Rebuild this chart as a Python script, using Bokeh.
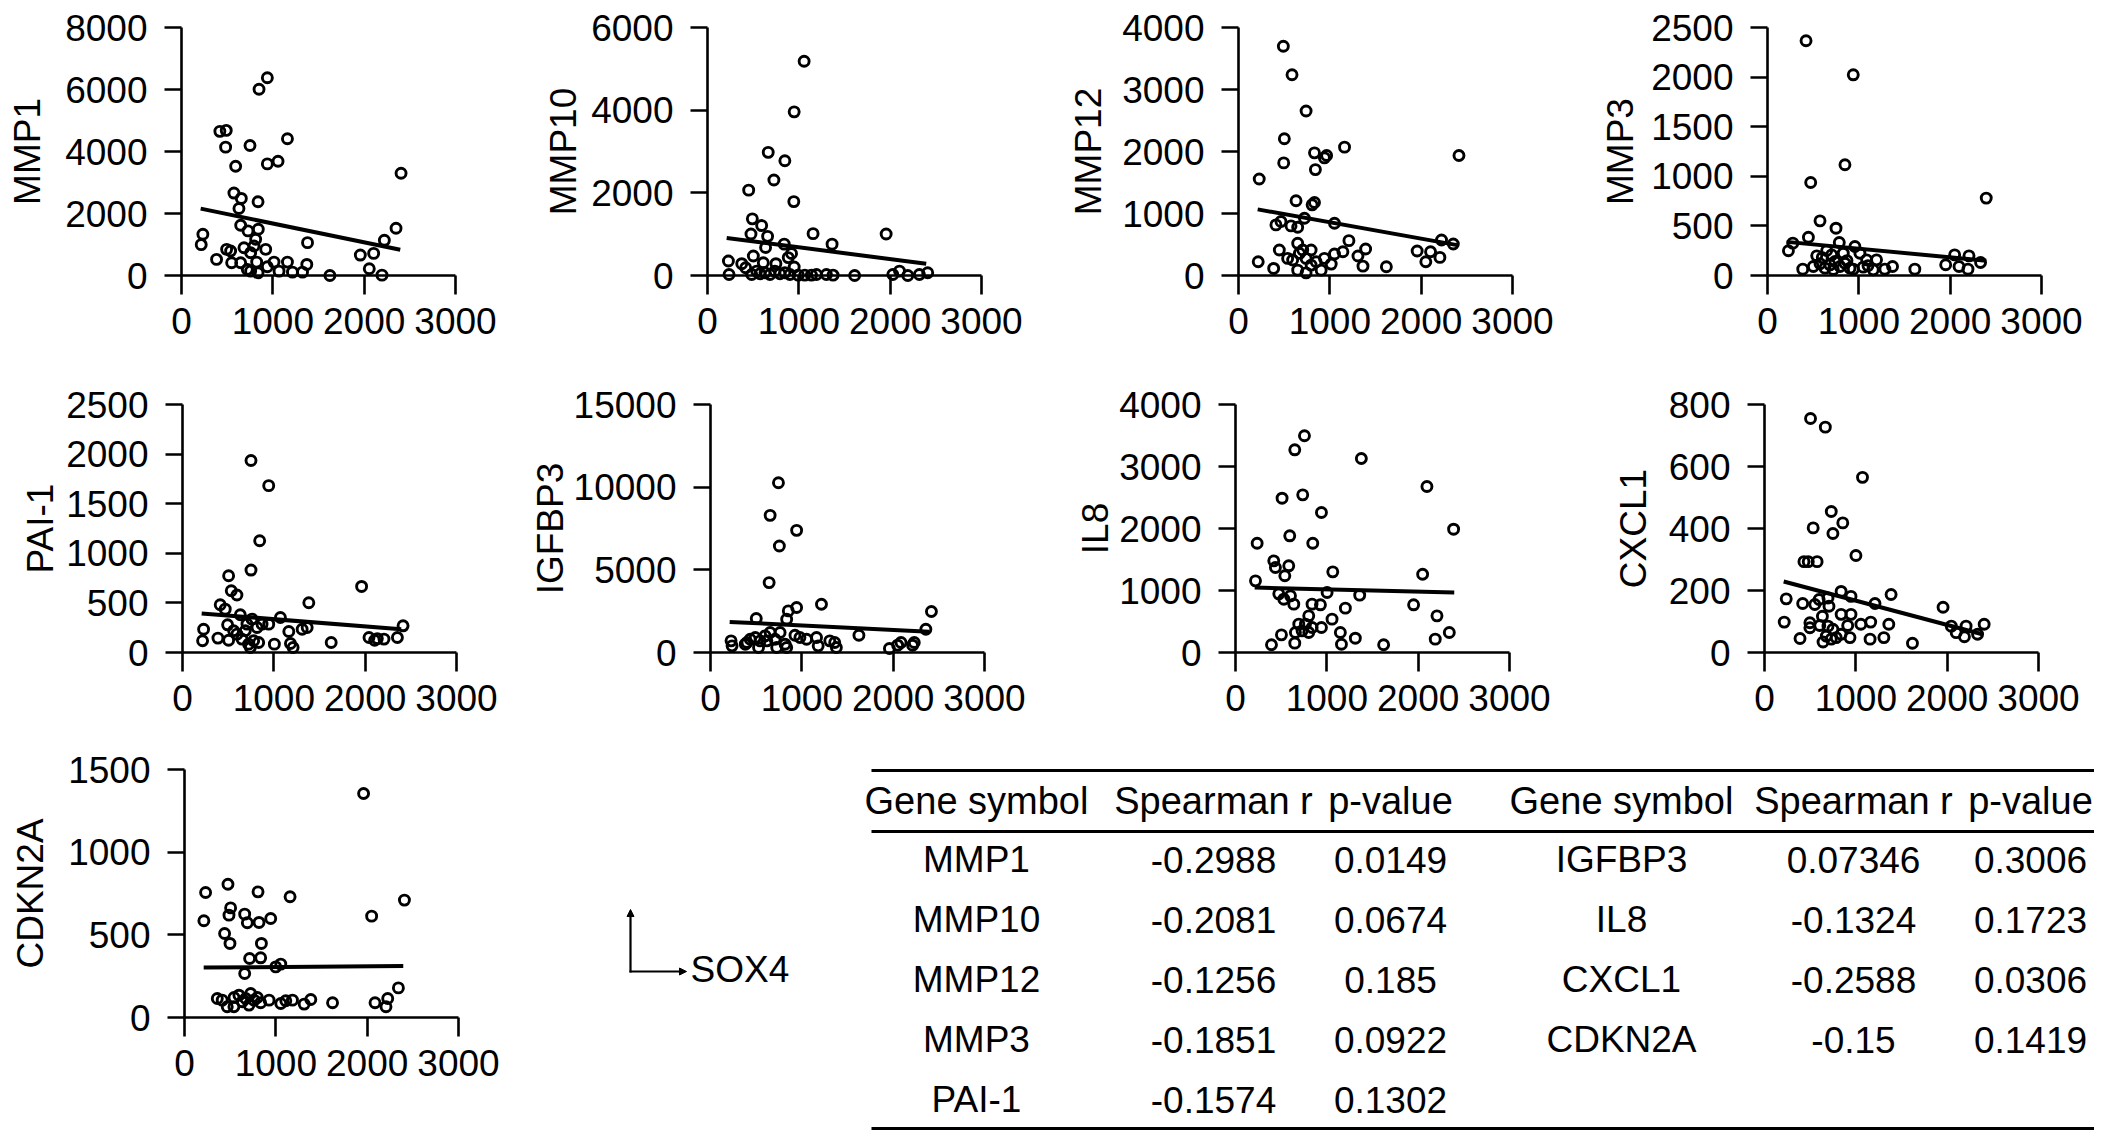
from bokeh.plotting import figure
from bokeh.layouts import row, column
from bokeh.models import Range1d, FixedTicker, Arrow, NormalHead
from bokeh.core.properties import value
from bokeh.embed import file_html
from bokeh.resources import INLINE

FONT = "Liberation Sans"

# SOX4 axis
sox4_ticks = [0, 1000, 2000, 3000]
fit_x = [210, 2395]

# MMP1 vs SOX4
mmp1_x = [940, 849, 420, 490, 483, 750, 1160, 593, 940, 1057, 2404, 574, 655, 838, 629, 648, 728, 841, 812, 234,
          216, 1380, 2349, 2221, 2104, 1958, 2056, 2195, 1625, 384, 494, 538, 549, 648, 684, 757, 794, 922, 823, 721,
          838, 940, 1013, 1068, 1160, 1215, 1325, 1372, 757]
mmp1_y = [6378, 6010, 4650, 4680, 4140, 4195, 4411, 3524, 3600, 3686, 3297, 2659, 2486, 2378, 2162, 1622, 1438, 1492, 1168, 1330,
          995, 1059, 1524, 1135, 714, 659, 216, 11, 0, 519, 843, 789, 411, 411, 897, 735, 951, 843, 432, 195,
          86, 281, 432, 140, 432, 108, 108, 357, 140]
mmp1_fit = [2157, 828]

# MMP10
mmp10_x = [1058, 949, 665, 847, 727, 451, 945, 491, 593, 476, 658, 1156, 1956, 1364, 840, 636, 920, 502, 229, 375,
           418, 236, 749, 949, 484, 538, 575, 629, 684, 738, 793, 847, 902, 993, 1065, 1138, 1193, 1302, 1375, 1611,
           2029, 2102, 2193, 2320, 2411, 611, 884]
mmp10_y = [5184, 3959, 2980, 2776, 2310, 2065, 1788, 1371, 1208, 1004, 947, 1012, 1004, 759, 759, 678, 531, 473, 351, 286,
           188, 24, 286, 204, 24, 106, 41, 65, 24, 106, 41, 65, 24, 8, 8, 8, 24, 24, 8, 0,
           24, 106, 0, 24, 65, 310, 433]
mmp10_fit = [906, 285]

# MMP12
mmp12_x = [491, 586, 740, 502, 1161, 832, 941, 965, 495, 842, 227, 630, 806, 832, 410, 575, 648, 722, 1051, 465,
           1209, 447, 648, 703, 795, 538, 593, 667, 740, 795, 850, 941, 1051, 1143, 1308, 1392, 1363, 905, 1015, 216,
           385, 648, 740, 1619, 1956, 2051, 2103, 2205, 2223, 2352, 2414]
mmp12_y = [3697, 3238, 2654, 2205, 2070, 1978, 1897, 1935, 1816, 1708, 1557, 1205, 1140, 1178, 816, 800, 778, 924, 843, 870,
           562, 411, 519, 411, 411, 276, 249, 357, 276, 168, 222, 276, 346, 384, 314, 427, 151, 86, 184, 222,
           114, 86, 43, 141, 395, 222, 384, 292, 573, 508, 1935]
mmp12_fit = [1067, 490]

# MMP3
mmp3_x = [422, 939, 848, 473, 2395, 575, 750, 448, 229, 277, 786, 957, 539, 648, 703, 830, 1012, 1085, 1194, 386,
          502, 575, 630, 684, 739, 794, 848, 903, 939, 1048, 1158, 1285, 1369, 1613, 1951, 2049, 2097, 2195, 2206, 2333,
          600, 720, 870, 1100]
mmp3_y = [2366, 2023, 1116, 938, 780, 551, 477, 386, 249, 326, 333, 292, 198, 252, 208, 225, 225, 158, 158, 64,
          91, 118, 74, 107, 141, 91, 124, 74, 64, 84, 57, 64, 91, 64, 108, 208, 91, 64, 198, 131,
          180, 60, 150, 100]
mmp3_fit = [339, 149]

# PAI-1
pai1_x = [750, 944, 845, 750, 505, 1961, 534, 596, 1383, 413, 468, 494, 633, 706, 761, 816, 871, 944, 1072, 1164,
          1310, 1365, 231, 220, 388, 505, 596, 651, 724, 779, 834, 743, 1006, 1182, 1211, 1628, 2042, 2104, 2206, 2353,
          2415, 2133, 688, 560]
pai1_y = [1935, 1682, 1127, 831, 774, 666, 622, 579, 501, 481, 437, 279, 380, 286, 336, 252, 286, 286, 353, 212,
          235, 252, 235, 118, 145, 124, 185, 135, 84, 118, 101, 50, 84, 91, 50, 101, 151, 124, 135, 151,
          269, 140, 219, 219]
pai1_fit = [393, 235]

# IGFBP3
igfbp3_x = [744, 653, 943, 754, 642, 1215, 943, 852, 2419, 501, 2358, 834, 225, 236, 381, 435, 490, 544, 598, 653,
            707, 762, 816, 834, 925, 1052, 1161, 1179, 1306, 1360, 1378, 1625, 1959, 2049, 2086, 2213, 2231, 617, 725, 979,
            526, 399]
igfbp3_y = [10268, 8295, 7389, 6443, 4228, 2919, 2718, 2517, 2476, 2054, 1409, 2013, 705, 403, 503, 805, 906, 705, 1007, 1208,
            805, 1208, 503, 302, 1047, 805, 906, 403, 705, 604, 302, 1047, 242, 443, 604, 443, 604, 705, 302, 906,
            302, 604]
igfbp3_fit = [1852, 1250]

# IL8
il8_x = [755, 649, 1378, 2096, 510, 736, 941, 2388, 594, 237, 846, 419, 437, 583, 540, 1065, 2049, 219, 474, 529,
         602, 638, 838, 930, 1003, 1360, 1950, 1203, 2206, 802, 1057, 693, 766, 839, 729, 656, 802, 941, 503, 394,
         649, 1148, 1160, 1312, 1622, 2187, 2341]
il8_y = [3495, 3269, 3129, 2677, 2489, 2543, 2258, 1989, 1882, 1763, 1763, 1478, 1371, 1398, 1237, 1301, 1263, 1156, 946, 860,
         914, 780, 780, 769, 968, 925, 769, 715, 591, 591, 538, 457, 457, 403, 349, 323, 323, 403, 285, 124,
         151, 323, 134, 231, 124, 215, 323]
il8_fit = [1048, 968]

# CXCL1
cxcl1_x = [504, 666, 1073, 731, 857, 533, 749, 1001, 432, 479, 576, 238, 418, 551, 598, 695, 706, 839, 947, 1210,
           1386, 1955, 216, 497, 497, 634, 605, 695, 749, 839, 947, 911, 1055, 1163, 1361, 389, 641, 677, 731, 785,
           839, 936, 1156, 1307, 1620, 2045, 2099, 2207, 2189, 2333, 2405]
cxcl1_y = [755, 727, 565, 455, 418, 402, 384, 313, 293, 293, 293, 173, 158, 155, 171, 176, 149, 197, 181, 158,
           187, 146, 98, 96, 80, 117, 87, 85, 75, 123, 123, 87, 91, 98, 91, 45, 34, 53, 43, 48,
           59, 48, 43, 48, 30, 85, 64, 85, 51, 59, 91]
cxcl1_fit = [229, 58]

# CDKN2A
cdkn2a_x = [1961, 476, 231, 805, 1156, 2408, 505, 487, 659, 688, 816, 944, 212, 2049, 439, 498, 842, 713, 834, 659,
            999, 1054, 2342, 359, 413, 542, 596, 633, 670, 706, 725, 761, 798, 834, 926, 1054, 1109, 1182, 1310, 1383,
            1621, 2086, 2225, 2206, 541, 468]
cdkn2a_y = [1355, 806, 756, 760, 730, 710, 663, 619, 625, 573, 575, 599, 585, 613, 508, 448, 448, 357, 361, 266,
            306, 323, 179, 115, 105, 121, 135, 95, 115, 75, 145, 105, 121, 89, 105, 85, 101, 105, 81, 109,
            89, 89, 115, 65, 65, 65]
cdkn2a_fit = [302, 312]

# correlation table
genes_left = ["MMP1", "MMP10", "MMP12", "MMP3", "PAI-1"]
r_left = [-0.2988, -0.2081, -0.1256, -0.1851, -0.1574]
p_left = [0.0149, 0.0674, 0.185, 0.0922, 0.1302]
genes_right = ["IGFBP3", "IL8", "CXCL1", "CDKN2A"]
r_right = [0.07346, -0.1324, -0.2588, -0.15]
p_right = [0.3006, 0.1723, 0.0306, 0.1419]
headers = ["Gene symbol", "Spearman r", "p-value", "Gene symbol", "Spearman r", "p-value"]

FRAME_W = 274   # px for 0..3000
SPAN_H = 248    # px for 0..ymax


def panel(name, xs, ys, fit, ymax, ystep, width, left, height, top, lab_gap):
    # whole canvas is the frame; both axes pinned at 0 so nothing gets clipped
    sx = FRAME_W / 3000
    sy = SPAN_H / ymax
    p = figure(width=width, height=height,
               x_range=Range1d(-left / sx, (width - left) / sx),
               y_range=Range1d(-(height - top - SPAN_H) / sy, ymax + top / sy),
               output_backend="svg", toolbar_location=None, title=None, min_border=0)
    p.outline_line_color = None
    p.grid.visible = False
    p.background_fill_color = "white"
    p.border_fill_color = "white"

    p.xaxis.fixed_location = 0
    p.yaxis.fixed_location = 0
    p.xaxis.bounds = (0, 3000)
    p.yaxis.bounds = (0, ymax)
    p.xaxis.ticker = FixedTicker(ticks=sox4_ticks)
    p.yaxis.ticker = FixedTicker(ticks=list(range(0, ymax + 1, ystep)))
    for ax in (p.xaxis, p.yaxis):
        ax.axis_line_width = 2.6
        ax.major_tick_line_width = 2.6
        ax.major_tick_in = 0
        ax.minor_tick_line_color = None
        ax.major_label_text_font = FONT
        ax.major_label_text_font_size = "37px"
        ax.major_label_text_color = "black"
        ax.axis_line_color = "black"
        ax.major_tick_line_color = "black"
    p.xaxis.major_tick_out = 19
    p.xaxis.major_label_standoff = 13
    p.yaxis.major_tick_out = 17
    p.yaxis.major_label_standoff = 17
    p.yaxis.axis_label = name
    p.yaxis.axis_label_text_font = FONT
    p.yaxis.axis_label_text_font_size = "37px"
    p.yaxis.axis_label_text_font_style = "normal"
    p.yaxis.axis_label_text_color = "black"
    p.yaxis.axis_label_standoff = lab_gap

    p.line(fit_x, fit, line_color="black", line_width=4)
    p.scatter(xs, ys, marker="circle", size=10, fill_color=None,
              line_color="black", line_width=2.9)
    return p


p1 = panel("MMP1", mmp1_x, mmp1_y, mmp1_fit, 8000, 2000, 501, 181, 384, 27, 14)
p2 = panel("MMP10", mmp10_x, mmp10_y, mmp10_fit, 6000, 2000, 526, 206, 384, 27, 4)
p3 = panel("MMP12", mmp12_x, mmp12_y, mmp12_fit, 4000, 1000, 531, 211, 384, 27, 10)
p4 = panel("MMP3", mmp3_x, mmp3_y, mmp3_fit, 2500, 500, 536, 209, 384, 27, 7)

p5 = panel("PAI-1", pai1_x, pai1_y, pai1_fit, 2500, 500, 502, 182, 365, 20, 2)
p6 = panel("IGFBP3", igfbp3_x, igfbp3_y, igfbp3_fit, 15000, 5000, 528, 208, 365, 20, 0)
p7 = panel("IL8", il8_x, il8_y, il8_fit, 4000, 1000, 525, 205, 365, 20, 0)
p8 = panel("CXCL1", cxcl1_x, cxcl1_y, cxcl1_fit, 800, 200, 539, 209, 365, 20, 12)

p9 = panel("CDKN2A", cdkn2a_x, cdkn2a_y, cdkn2a_fit, 1500, 500, 560, 184, 382, 20, 14)

# table + axis legend, drawn in page pixel units (canvas spans y 749..1131)
t = figure(width=1534, height=382, x_range=Range1d(560, 2094), y_range=Range1d(1131, 749),
           output_backend="svg", toolbar_location=None, title=None,
           x_axis_location=None, y_axis_location=None, min_border=0)
t.outline_line_color = None
t.grid.visible = False

col_x = [976, 1213, 1390, 1621, 1853, 2030]
head_mid = 800
row_mid = 859
row_step = 60

t.segment(x0=[871, 871, 871], x1=[2094, 2094, 2094], y0=[770, 831, 1128], y1=[770, 831, 1128],
          line_color="black", line_width=3)
t.text(x=col_x, y=[head_mid] * 6, text=headers, text_font=value(FONT), text_font_size="38px",
       text_align="center", text_baseline="middle", text_color="black")

cells_x, cells_y, cells_t = [], [], []
for i, g in enumerate(genes_left):
    ym = row_mid + i * row_step
    cells_x += col_x[0:3]
    cells_y += [ym] * 3
    cells_t += [g, str(r_left[i]), str(p_left[i])]
for i, g in enumerate(genes_right):
    ym = row_mid + i * row_step
    cells_x += col_x[3:6]
    cells_y += [ym] * 3
    cells_t += [g, str(r_right[i]), str(p_right[i])]
t.text(x=cells_x, y=cells_y, text=cells_t, text_font=value(FONT), text_font_size="37px",
       text_align="center", text_baseline="middle", text_color="black")

t.add_layout(Arrow(end=NormalHead(size=7, fill_color="black", line_color="black", line_width=1),
                   x_start=630, y_start=972, x_end=630, y_end=909, line_width=2.2, line_color="black"))
t.add_layout(Arrow(end=NormalHead(size=7, fill_color="black", line_color="black", line_width=1),
                   x_start=629, y_start=971, x_end=686, y_end=971, line_width=2.2, line_color="black"))
t.text(x=[690], y=[969], text=["SOX4"], text_font=value(FONT), text_font_size="37px",
       text_align="left", text_baseline="middle", text_color="black")

layout = column(row(p1, p2, p3, p4), row(p5, p6, p7, p8), row(p9, t))

open("out.html", "w").write(file_html(layout, INLINE))
